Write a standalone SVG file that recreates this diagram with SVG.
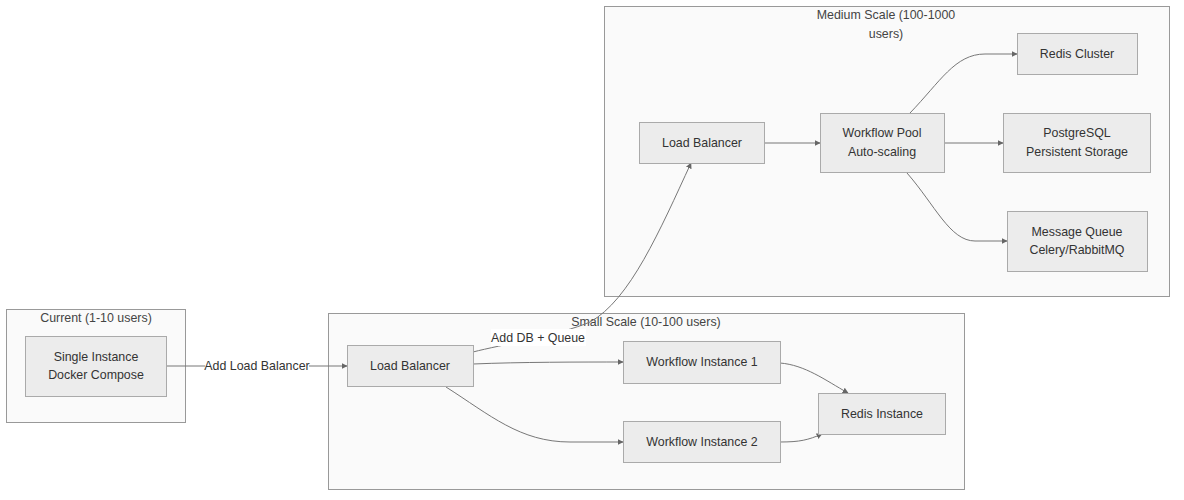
<svg xmlns="http://www.w3.org/2000/svg" width="1184" height="500" viewBox="0 0 1184 500">
<style>
.cl{fill:#fafafa;stroke:#999;stroke-width:1}
.nd{fill:#ececec;stroke:#aaa;stroke-width:1}
text{font-family:"Liberation Sans",Arial,sans-serif;font-size:12.4px;fill:#333;text-anchor:middle;dominant-baseline:central}
.ct{fill:#444}
.e{fill:none;stroke:#777;stroke-width:1}
.lb{fill:#fff}
</style>
<defs>
<marker id="ah" viewBox="0 0 10 10" refX="9" refY="5" markerWidth="6" markerHeight="6" orient="auto-start-reverse" markerUnits="userSpaceOnUse">
<path d="M0,0 L10,5 L0,10 z" fill="#666"/>
</marker>
</defs>
<rect width="1184" height="500" fill="#fff"/>
<g id="clusters">
<g id="cluster-current"><rect class="cl" x="6.5" y="309.5" width="179" height="113"/><text class="ct" x="96" y="318">Current (1-10 users)</text></g>
<g id="cluster-small"><rect class="cl" x="328.5" y="313.5" width="636" height="176"/><text class="ct" x="646" y="322">Small Scale (10-100 users)</text></g>
<g id="cluster-medium"><rect class="cl" x="604.5" y="6.5" width="565" height="290"/><text class="ct" x="886" y="15">Medium Scale (100-1000</text><text class="ct" x="886" y="34">users)</text></g>
</g>
<g id="connectors">
<path class="e" d="M166,366 L347,366" marker-end="url(#ah)"/>
<path class="e" d="M473,352 C500,345 560,335 590,322 C630,300 660,230 691,163" marker-end="url(#ah)"/>
<path class="e" d="M473,364 C520,362 580,362 623,362" marker-end="url(#ah)"/>
<path class="e" d="M446,387 C490,415 520,442 570,442 L623,442" marker-end="url(#ah)"/>
<path class="e" d="M780,363 C805,365 825,380 848,393" marker-end="url(#ah)"/>
<path class="e" d="M780,442 C800,442 808,440 822,434" marker-end="url(#ah)"/>
<path class="e" d="M764,143 L820,143" marker-end="url(#ah)"/>
<path class="e" d="M910,113 C940,82 955,54 985,54 L1017,54" marker-end="url(#ah)"/>
<path class="e" d="M944,143 L1003,143" marker-end="url(#ah)"/>
<path class="e" d="M907,173 C935,205 950,241 975,241 L1007,241" marker-end="url(#ah)"/>
<g id="edge-labels">
<rect class="lb" x="205" y="358" width="104" height="16"/><text x="257" y="366">Add Load Balancer</text>
<rect class="lb" x="491" y="329" width="95" height="17"/><text x="538" y="338">Add DB + Queue</text>
</g>
</g>
<g id="node-single"><rect class="nd" x="25.5" y="336.5" width="141" height="60"/><text x="96" y="357">Single Instance</text><text x="96" y="375">Docker Compose</text></g>
<g id="node-lb-small"><rect class="nd" x="347.5" y="345.5" width="126" height="41"/><text x="410" y="366">Load Balancer</text></g>
<g id="node-wi1"><rect class="nd" x="623.5" y="341.5" width="157" height="42"/><text x="702" y="362">Workflow Instance 1</text></g>
<g id="node-wi2"><rect class="nd" x="623.5" y="421.5" width="157" height="41"/><text x="702" y="442">Workflow Instance 2</text></g>
<g id="node-redis-inst"><rect class="nd" x="818.5" y="393.5" width="127" height="41"/><text x="882" y="414">Redis Instance</text></g>
<g id="node-lb-medium"><rect class="nd" x="639.5" y="122.5" width="125" height="41"/><text x="702" y="143">Load Balancer</text></g>
<g id="node-pool"><rect class="nd" x="820.5" y="113.5" width="124" height="59"/><text x="882" y="133">Workflow Pool</text><text x="882" y="152">Auto-scaling</text></g>
<g id="node-redis-cluster"><rect class="nd" x="1017.5" y="33.5" width="120" height="41"/><text x="1077" y="54">Redis Cluster</text></g>
<g id="node-pg"><rect class="nd" x="1003.5" y="113.5" width="147" height="59"/><text x="1077" y="133">PostgreSQL</text><text x="1077" y="152">Persistent Storage</text></g>
<g id="node-mq"><rect class="nd" x="1007.5" y="211.5" width="140" height="60"/><text x="1077" y="232">Message Queue</text><text x="1077" y="250">Celery/RabbitMQ</text></g>
</svg>
